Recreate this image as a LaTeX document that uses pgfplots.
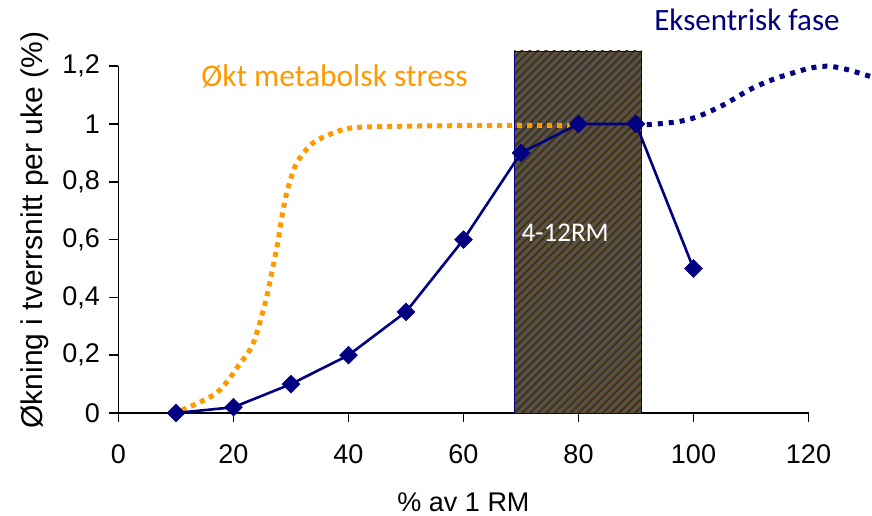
\documentclass[border=0pt]{standalone}
\usepackage{fontspec}
\setmainfont{Liberation Sans}
\newfontfamily\calib{Carlito}
\usepackage{pgfplots}
\pgfplotsset{compat=1.18}
\usetikzlibrary{patterns.meta}
\definecolor{navyc}{HTML}{000080}
\definecolor{orng}{HTML}{FF9900}
\definecolor{boxgray}{HTML}{525252}
\definecolor{hatchc}{HTML}{4A3004}
\begin{document}
\begin{tikzpicture}
\path[use as bounding box] (-118.5pt,-103pt) rectangle (753.5pt,413pt);
\clip (-118.5pt,-103pt) rectangle (753.5pt,413pt);
\begin{axis}[
  at={(0pt,0pt)}, anchor=origin,
  x=5.75pt, y=289pt,
  xmin=0, xmax=120, ymin=0, ymax=1.2,
  axis x line=bottom, axis y line=left,
  axis line style={-, line width=1.6pt, black},
  clip=false,
  xtick={0,20,...,120},
  ytick={0,0.2,0.4,0.6,0.8,1,1.2},
  tick align=outside,
  major tick length=9pt,
  tick style={black, line width=1.6pt},
  /pgf/number format/assume math mode=true,
  /pgf/number format/use comma,
  /pgf/number format/fixed,
  yticklabel style={/pgf/number format/precision=1},
  tick label style={font=\fontsize{27}{27}\selectfont},
  xticklabel style={yshift=-19pt},
  yticklabel style={xshift=-6pt},
  xlabel={\% av 1 RM},
  ylabel={Økning i tverrsnitt per uke (\%)},
  every axis x label/.style={at={(axis cs:60,0)}, yshift=-89pt, anchor=center, font=\fontsize{27}{27}\selectfont},
  every axis y label/.style={at={(axis cs:0,0.633)}, xshift=-83.5pt, rotate=90, anchor=center, font=\fontsize{30}{30}\selectfont},
]
% shaded zone 4-12RM
\addplot[draw=navyc, line width=0.8pt, preaction={fill=boxgray},
  pattern={Lines[angle=45,distance=5.7pt,line width=2pt]}, pattern color=hatchc]
  coordinates {(68.8,0) (68.8,1.2526) (91.0,1.2526) (91.0,0)} -- cycle;
% metabolic stress curve
\addplot[orng, line width=5pt, dash pattern=on 5pt off 5pt, smooth, tension=0.5]
  coordinates {(11,0.01) (17.1,0.07) (21.1,0.17) (23.4,0.24) (25.5,0.38) (26.6,0.48)
  (27.7,0.59) (28.6,0.70) (29.5,0.78) (31,0.865) (33.8,0.934) (37.9,0.973)
  (41.4,0.988) (51.9,0.993) (69.3,0.995) (78.5,0.995)};
% eccentric phase curve
\addplot[navyc, line width=5pt, dash pattern=on 5pt off 6pt, smooth, tension=0.6]
  coordinates {(90,1.0) (91.6,0.997) (98.8,1.014) (104.6,1.06) (110.4,1.125)
  (116.2,1.17) (123.2,1.2) (130.7,1.165) (134,1.14)};
% data
\addplot[navyc, line width=2.6pt, mark=square*, mark size=6.3pt,
  mark options={rotate=45, fill=navyc, draw=navyc, line width=0.5pt}]
  coordinates {(10,0) (20,0.02) (30,0.1) (40,0.2) (50,0.35) (60,0.6)
  (70,0.9) (80,1) (90,1) (100,0.5)};
\node[text=orng, anchor=west, font=\calib\fontsize{31.5}{31.5}\selectfont] at (axis cs:13.8,1.166) {Økt metabolsk stress};
\node[text=white, anchor=center, font=\calib\fontsize{27}{27}\selectfont] at (axis cs:77.7,0.623) {4-12RM};
\node[text=navyc, anchor=center, font=\calib\fontsize{31}{31}\selectfont] at (axis cs:109.3,1.36) {Eksentrisk fase};
\end{axis}
\end{tikzpicture}
\end{document}
